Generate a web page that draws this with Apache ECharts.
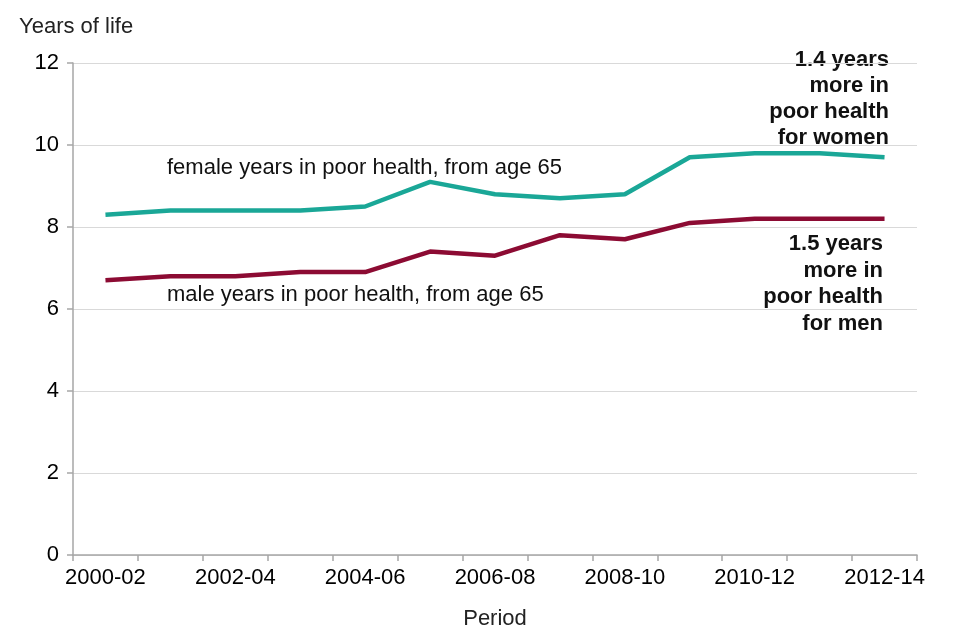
<!DOCTYPE html>
<html><head><meta charset="utf-8">
<script src="https://cdn.jsdelivr.net/npm/echarts@6/dist/echarts.min.js"></script>
<style>html,body{margin:0;padding:0;background:#fff}#c{width:960px;height:640px}</style>
</head><body><div id="c"></div>
<script>
var categories = ['2000-02','2001-03','2002-04','2003-05','2004-06','2005-07','2006-08','2007-09','2008-10','2009-11','2010-12','2011-13','2012-14'];
var femaleValues = [8.3, 8.4, 8.4, 8.4, 8.5, 9.1, 8.8, 8.7, 8.8, 9.7, 9.8, 9.8, 9.7];
var maleValues = [6.7, 6.8, 6.8, 6.9, 6.9, 7.4, 7.3, 7.8, 7.7, 8.1, 8.2, 8.2, 8.2];
var yTicks = [0, 2, 4, 6, 8, 10, 12];

var FONT = 'Liberation Sans, Arial, sans-serif';
var FS = 22;
var chart = echarts.init(document.getElementById('c'), null, {renderer: 'canvas'});
chart.setOption({
  animation: false,
  backgroundColor: '#fff',
  grid: {left: 73, right: 43, top: 63, bottom: 85, containLabel: false},
  xAxis: {
    type: 'category', data: categories, boundaryGap: true,
    axisLine: {lineStyle: {color: '#a6a6a6', width: 1.5}},
    axisTick: {show: true, interval: 0, length: 6, lineStyle: {color: '#a6a6a6', width: 1.5}},
    axisLabel: {interval: 1, color: '#000', fontSize: FS, fontFamily: FONT, margin: 12},
    name: 'Period', nameLocation: 'middle', nameGap: 53,
    nameTextStyle: {color: '#222', fontSize: FS, fontFamily: FONT}
  },
  yAxis: {
    type: 'value', min: yTicks[0], max: yTicks[yTicks.length-1], interval: 2,
    axisLine: {show: true, lineStyle: {color: '#a6a6a6', width: 1.5}},
    axisTick: {show: true, length: 6, lineStyle: {color: '#a6a6a6', width: 1.5}},
    axisLabel: {color: '#000', fontSize: FS, fontFamily: FONT, margin: 14},
    splitLine: {lineStyle: {color: '#d9d9d9', width: 1}}
  },
  series: [
    {name: 'female', type: 'line', data: femaleValues, symbol: 'none',
     lineStyle: {color: '#1aa797', width: 4.5}, itemStyle: {color: '#1aa797'}},
    {name: 'male', type: 'line', data: maleValues, symbol: 'none',
     lineStyle: {color: '#8c0b33', width: 4.5}, itemStyle: {color: '#8c0b33'}}
  ],
  graphic: [
    {type: 'text', x: 19, y: 16, style: {text: 'Years of life', fontSize: FS, fontFamily: FONT, fill: '#222'}},
    {type: 'text', x: 167, y: 157, style: {text: 'female years in poor health, from age 65', fontSize: FS, fontFamily: FONT, fill: '#111'}},
    {type: 'text', x: 167, y: 284, style: {text: 'male years in poor health, from age 65', fontSize: FS, fontFamily: FONT, fill: '#111'}},
    {type: 'text', x: 889, y: 47, style: {text: '1.4 years\nmore in\npoor health\nfor women', align: 'right', fontSize: FS, fontWeight: 'bold', lineHeight: 26, fontFamily: FONT, fill: '#111'}},
    {type: 'text', x: 883, y: 231, style: {text: '1.5 years\nmore in\npoor health\nfor men', align: 'right', fontSize: FS, fontWeight: 'bold', lineHeight: 26.5, fontFamily: FONT, fill: '#111'}}
  ]
});
</script></body></html>
